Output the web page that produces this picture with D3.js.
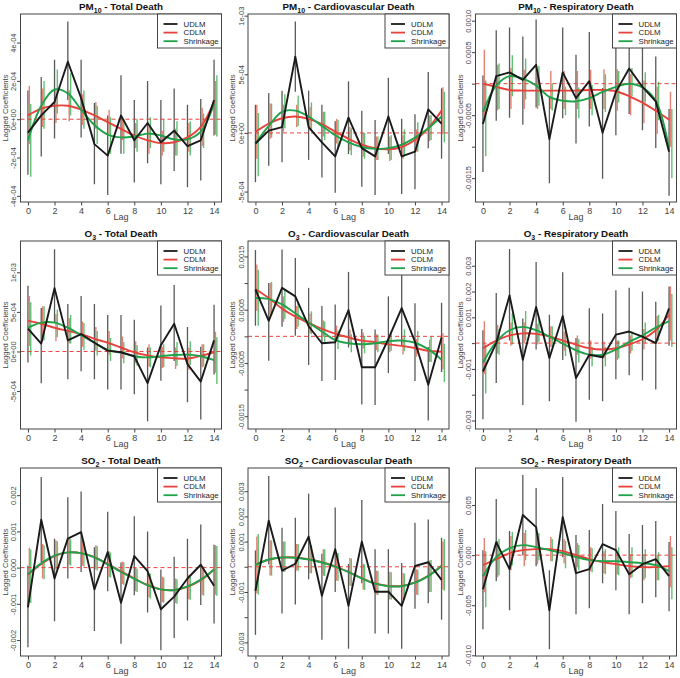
<!DOCTYPE html>
<html><head><meta charset="utf-8">
<script src="https://cdn.jsdelivr.net/npm/d3@7"></script>
<style>body{margin:0;background:#fff}svg text{font-family:"Liberation Sans",Arial,sans-serif}</style>
</head><body><svg id="c" width="680" height="678"></svg>
<script>
const lags = d3.range(0, 15);
const xTicks = [0, 2, 4, 6, 8, 10, 12, 14];
const seriesNames = ["UDLM", "CDLM", "Shrinkage"];
const seriesColors = ["#1a1a1a", "#e8433b", "#1fa24a"];
const barColors = ["#505050", "#de6b5d", "#45b55a"];

// Panel titles: [base, subscript, rest]
const titles = [
  ["PM", "10", "  - Total Death"], ["PM", "10", "  - Cardiovascular Death"], ["PM", "10", "  - Respiratory Death"],
  ["O", "3", " - Total Death"], ["O", "3", " - Cardiovascular Death"], ["O", "3", " - Respiratory Death"],
  ["SO", "2", " - Total Death"], ["SO", "2", " - Cardiovascular Death"], ["SO", "2", " - Respiratory Death"]
];

// ---- PM10 Total (values x1e-4)
const pm10Total_domain = [-4.32, 5.49];
const pm10Total_ticks = [-4, -2, 0, 2, 4];
const pm10Total_labels = ["-4e-04", "-2e-04", "0e+00", "2e-04", "4e-04"];
const pm10Total_udlm = [-0.7, 0.2, 0.9, 3.0, 1.1, -1.3, -1.9, 0.2, -1.1, -0.2, -1.2, -0.6, -1.4, -1.1, 1.0];
const pm10Total_udlmLo = [-2.9, -1.95, -1.0, 1.0, -0.95, -3.4, -3.95, -1.8, -3.3, -2.3, -3.4, -2.7, -3.55, -3.2, -0.85];
const pm10Total_udlmHi = [1.5, 2.2, 3.1, 5.1, 3.1, 0.85, 0.2, 2.3, 1.0, 2.0, 1.0, 1.6, 0.75, 1.05, 3.1];
const pm10Total_cdlm = [0.2, 0.55, 0.7, 0.7, 0.5, 0.2, -0.15, -0.5, -0.85, -1.1, -1.25, -1.2, -0.95, -0.4, 0.9];
const pm10Total_cdlmLo = [-1.3, -0.4, -0.2, -0.1, -0.3, -0.5, -0.8, -1.1, -1.5, -1.8, -1.9, -1.9, -1.7, -1.4, -0.8];
const pm10Total_cdlmHi = [1.75, 1.6, 1.6, 1.5, 1.3, 0.9, 0.5, 0.1, -0.2, -0.4, -0.6, -0.5, -0.2, 0.6, 2.0];
const pm10Total_shr = [-1.1, 0.7, 1.55, 1.35, 0.5, -0.3, -0.8, -0.95, -0.9, -0.75, -0.85, -1.05, -1.05, -0.65, 0.8];
const pm10Total_shrLo = [-3.0, -0.5, 0.3, 0.2, -0.5, -1.3, -1.8, -1.8, -1.7, -1.5, -1.7, -1.9, -1.9, -1.5, -0.9];
const pm10Total_shrHi = [0.8, 2.0, 2.6, 2.4, 1.5, 0.7, 0.1, 0.0, 0.0, 0.1, 0.0, -0.1, -0.1, 0.3, 2.3];

// ---- PM10 Cardiovascular (x1e-4)
const pm10Cardio_domain = [-5.89, 10.14];
const pm10Cardio_ticks = [-5, 0, 5, 10];
const pm10Cardio_labels = ["-5e-04", "0e+00", "5e-04", "1e-03"];
const pm10Cardio_udlm = [-0.9, 0.2, 0.5, 6.5, 0.5, -0.8, -2.0, 1.3, -1.3, -2.0, 1.4, -2.0, -1.6, 2.0, 0.8];
const pm10Cardio_udlmLo = [-4.2, -2.8, -2.5, 3.5, -2.3, -3.8, -5.1, -1.8, -4.6, -5.3, -1.8, -5.2, -4.8, -1.3, -2.2];
const pm10Cardio_udlmHi = [2.4, 3.4, 3.6, 9.5, 3.6, 2.4, 1.0, 4.4, 1.9, 1.1, 4.7, 1.2, 1.6, 5.2, 3.8];
const pm10Cardio_cdlm = [0.1, 0.8, 1.25, 1.4, 1.2, 0.75, 0.1, -0.5, -1.0, -1.3, -1.4, -1.2, -0.6, 0.4, 1.9];
const pm10Cardio_cdlmLo = [-2.2, -0.5, 0.1, 0.5, 0.2, -0.3, -0.9, -1.5, -2.0, -2.3, -2.4, -2.2, -1.6, -0.7, -0.1];
const pm10Cardio_cdlmHi = [2.4, 2.5, 2.4, 2.4, 2.2, 1.8, 1.2, 0.5, 0.0, -0.3, -0.3, -0.2, 0.3, 1.5, 3.9];
const pm10Cardio_shr = [-0.9, 0.6, 1.8, 1.9, 1.4, 0.6, -0.2, -0.8, -1.2, -1.35, -1.3, -1.0, -0.4, 0.4, 1.4];
const pm10Cardio_shrLo = [-3.7, -0.4, 0.4, 0.6, 0.2, -0.6, -1.4, -1.9, -2.2, -2.3, -2.3, -2.0, -1.6, -0.6, -0.8];
const pm10Cardio_shrHi = [1.7, 2.5, 3.3, 3.2, 2.6, 1.8, 1.1, 0.4, 0.0, -0.3, -0.2, 0.3, 0.9, 1.5, 3.5];

// ---- PM10 Respiratory (x1e-4)
const pm10Resp_domain = [-18.78, 11.06];
const pm10Resp_ticks = [-15, -10, -5, 0, 5, 10];
const pm10Resp_labels = ["-0.0015", "", "-0.0005", "", "0.0005", "0.0010"];
const pm10Resp_udlm = [-6.4, 1.2, 1.8, 0.6, 3.0, -8.8, 1.8, -2.3, 0.4, -7.8, -1.3, 2.4, -0.5, -2.8, -10.8];
const pm10Resp_udlmLo = [-14.0, -5.9, -5.4, -6.5, -3.8, -15.8, -5.5, -9.5, -6.8, -15.1, -8.2, -4.8, -7.4, -10.2, -17.8];
const pm10Resp_udlmHi = [1.3, 8.5, 8.9, 7.5, 10.2, -2.0, 8.9, 4.6, 8.2, -0.7, 6.2, 9.5, 6.7, 4.3, -4.0];
const pm10Resp_cdlm = [0.0, -0.5, -1.0, -1.1, -1.1, -1.1, -1.1, -1.1, -1.0, -1.0, -1.2, -2.0, -3.0, -4.3, -5.7];
const pm10Resp_cdlmLo = [-5.5, -4.2, -4.0, -4.0, -4.0, -4.0, -4.0, -4.0, -4.0, -4.0, -4.3, -5.0, -6.3, -8.0, -10.0];
const pm10Resp_cdlmHi = [5.4, 3.0, 2.5, 2.2, 2.0, 2.0, 2.0, 2.0, 2.2, 2.3, 2.3, 1.5, 0.5, -0.5, -1.3];
const pm10Resp_shr = [-4.5, -0.3, 1.2, 0.8, -0.3, -2.1, -2.7, -2.8, -2.3, -1.3, -0.5, 0.0, -0.6, -2.7, -10.3];
const pm10Resp_shrLo = [-11.5, -4.0, -2.0, -2.5, -3.5, -4.3, -5.0, -5.5, -5.0, -4.5, -3.0, -2.0, -3.0, -5.8, -15.0];
const pm10Resp_shrHi = [0.5, 3.2, 4.5, 4.0, 2.8, 0.0, -0.5, -0.6, -0.2, 1.5, 2.0, 2.5, 1.8, 0.3, -4.0];

// ---- O3 Total (x1e-4)
const o3Total_domain = [-9.79, 13.95];
const o3Total_ticks = [-5, 0, 5, 10];
const o3Total_labels = ["-5e-04", "0e+00", "5e-04", "1e-03"];
const o3Total_udlm = [2.9, 1.0, 8.0, 1.4, 2.2, 1.1, 0.1, -0.1, -0.6, -4.0, 0.8, 3.5, -1.6, -3.8, 1.4];
const o3Total_udlmLo = [-1.4, -4.0, 3.7, -3.5, -2.5, -3.5, -4.8, -4.8, -5.4, -8.8, -3.7, -1.2, -6.4, -8.6, -2.9];
const o3Total_udlmHi = [8.3, 5.5, 12.9, 6.0, 7.0, 6.0, 4.6, 4.6, 4.0, 0.5, 5.8, 8.4, 3.1, 0.6, 5.9];
const o3Total_cdlm = [3.9, 3.5, 3.0, 2.6, 2.2, 1.6, 1.1, 0.5, -0.1, -0.5, -0.75, -0.85, -0.9, -0.55, -0.1];
const o3Total_cdlmLo = [0.7, 1.3, 1.3, 1.0, 0.6, 0.1, -0.4, -0.9, -1.5, -1.9, -2.1, -2.2, -2.3, -2.0, -2.7];
const o3Total_cdlmHi = [7.0, 5.7, 4.7, 4.2, 3.8, 3.1, 2.6, 1.9, 1.3, 0.9, 0.6, 0.5, 0.5, 0.9, 2.5];
const o3Total_shr = [3.0, 3.65, 3.65, 3.0, 2.05, 1.1, 0.2, -0.15, -0.6, -0.75, -0.6, -0.45, -0.4, -0.6, -1.1];
const o3Total_shrLo = [-0.5, 1.4, 1.8, 1.0, 0.2, -0.5, -1.2, -1.5, -1.8, -2.0, -2.0, -1.8, -1.7, -1.9, -4.1];
const o3Total_shrHi = [6.2, 5.7, 5.3, 4.6, 3.6, 2.6, 1.7, 1.2, 0.8, 0.5, 0.9, 1.2, 1.3, 0.9, 1.8];

// ---- O3 Cardiovascular (x1e-4)
const o3Cardio_domain = [-17.4, 17.9];
const o3Cardio_ticks = [-15, -10, -5, 0, 5, 10, 15];
const o3Cardio_labels = ["-0.0015", "", "-0.0005", "", "0.0005", "", "0.0015"];
const o3Cardio_udlm = [8.8, 2.9, 9.1, 7.5, 1.9, -1.3, -1.1, 4.9, -5.8, -5.8, -0.5, 5.3, -1.0, -9.1, -0.2];
const o3Cardio_udlmLo = [2.0, -4.6, 1.8, 0.1, -5.4, -8.4, -8.2, -2.1, -12.8, -12.9, -6.9, -1.7, -8.4, -15.8, -6.7];
const o3Cardio_udlmHi = [16.2, 10.0, 16.3, 14.7, 9.1, 5.7, 6.0, 12.1, 1.4, 1.3, 7.5, 12.0, 6.2, -2.0, 6.3];
const o3Cardio_cdlm = [8.9, 7.2, 5.2, 3.7, 2.5, 1.4, 0.5, -0.2, -0.8, -1.1, -1.5, -1.8, -2.2, -2.7, -2.9];
const o3Cardio_cdlmLo = [4.8, 4.0, 2.7, 1.4, 0.6, -0.1, -0.9, -1.6, -2.3, -2.6, -3.0, -3.4, -3.8, -4.8, -6.2];
const o3Cardio_cdlmHi = [13.5, 10.0, 7.5, 5.7, 4.3, 3.0, 2.0, 1.3, 0.7, 0.4, 0.0, -0.3, -0.5, -0.6, 0.6];
const o3Cardio_shr = [7.2, 7.0, 6.0, 4.3, 2.6, 0.9, -0.7, -1.3, -1.5, -1.3, -0.9, -0.8, -1.2, -2.4, -4.4];
const o3Cardio_shrLo = [2.0, 4.0, 3.2, 1.8, 0.4, -1.0, -2.4, -3.0, -3.2, -3.0, -2.7, -2.8, -3.3, -4.8, -8.6];
const o3Cardio_shrHi = [12.5, 10.2, 8.8, 6.5, 4.7, 2.8, 1.1, 0.4, 0.1, 0.3, 0.9, 1.3, 1.0, 0.0, -1.4];

// ---- O3 Respiratory (x1e-4)
const o3Resp_domain = [-33.3, 39.6];
const o3Resp_ticks = [-30, -20, -10, 0, 10, 20, 30];
const o3Resp_labels = ["-0.003", "", "-0.001", "", "0.001", "0.002", "0.003"];
const o3Resp_udlm = [-11.0, 0.0, 18.5, -6.5, 14.0, -5.8, 10.5, -13.5, -4.5, -5.5, 3.3, 4.5, 2.5, 0.0, 13.5];
const o3Resp_udlmLo = [-29.5, -15.5, 1.0, -24.0, -2.5, -22.5, -6.5, -30.5, -22.0, -22.5, -14.0, -12.5, -14.5, -18.0, -1.0];
const o3Resp_udlmHi = [5.0, 19.4, 36.5, 9.5, 31.5, 11.0, 27.5, 2.0, 13.5, 11.5, 20.5, 21.5, 20.0, 16.0, 22.0];
const o3Resp_cdlm = [-2.0, 1.0, 3.0, 3.8, 3.6, 2.6, 1.0, -0.6, -2.0, -2.5, -2.0, -0.5, 1.5, 5.0, 11.0];
const o3Resp_cdlmLo = [-12.0, -4.0, -1.0, 0.0, -0.5, -1.5, -3.0, -4.5, -6.0, -6.0, -6.5, -4.0, -2.5, 0.5, 1.0];
const o3Resp_cdlmHi = [8.5, 7.0, 8.0, 8.0, 7.5, 6.5, 4.5, 3.0, 1.0, 0.5, 1.0, 3.0, 5.5, 10.5, 22.0];
const o3Resp_shr = [-7.5, 0.5, 5.0, 6.3, 5.0, 2.5, -0.2, -2.8, -4.5, -4.5, -2.5, 0.5, 3.0, 6.0, 8.5];
const o3Resp_shrLo = [-19.5, -4.5, -0.5, 1.0, 0.5, -1.5, -5.0, -7.5, -9.0, -9.0, -6.0, -3.0, 0.0, 1.0, -1.5];
const o3Resp_shrHi = [-0.5, 5.5, 11.5, 12.5, 9.5, 6.5, 4.0, 1.5, -1.5, -1.5, 1.0, 4.5, 8.0, 11.0, 19.0];

// ---- SO2 Total (x1e-4)
const so2Total_domain = [-24.4, 27.5];
const so2Total_ticks = [-20, -10, 0, 10, 20];
const so2Total_labels = ["-0.002", "-0.001", "0.000", "0.001", "0.002"];
const so2Total_udlm = [-11.0, 13.2, -3.0, 8.0, 9.8, -6.0, 4.3, -9.7, 3.2, -1.0, -11.5, -8.0, -3.0, 0.8, -5.0];
const so2Total_udlmLo = [-22.0, 1.5, -14.8, -3.0, -1.2, -17.5, -6.5, -21.0, -7.6, -12.4, -22.8, -19.4, -14.6, -10.3, -15.4];
const so2Total_udlmHi = [0.5, 25.0, 8.0, 19.4, 21.0, 5.6, 15.4, 1.4, 14.2, 10.0, -0.5, 3.0, 8.0, 11.9, 6.3];
const so2Total_cdlm = [-2.0, 1.0, 3.2, 4.2, 4.0, 2.9, 1.0, -1.0, -3.0, -4.8, -6.0, -6.2, -5.3, -3.5, -0.5];
const so2Total_cdlmLo = [-9.5, -3.0, -0.5, 0.8, 0.5, -0.5, -2.5, -4.5, -6.5, -8.2, -9.5, -9.8, -8.7, -7.5, -7.5];
const so2Total_cdlmHi = [5.5, 6.5, 7.5, 8.0, 7.5, 6.2, 4.5, 1.7, -0.1, -1.5, -2.5, -3.0, -2.0, 0.5, 6.2];
const so2Total_shr = [-1.8, 1.2, 3.3, 4.2, 4.0, 2.8, 0.9, -1.2, -3.1, -4.9, -6.0, -6.2, -5.2, -3.3, -0.5];
const so2Total_shrLo = [-9.8, -3.2, -0.6, 0.6, 0.3, -0.8, -2.7, -4.8, -6.7, -8.5, -9.7, -10.0, -8.9, -7.8, -7.8];
const so2Total_shrHi = [5.0, 6.2, 7.3, 7.8, 7.3, 6.0, 4.2, 1.5, -0.3, -1.6, -2.7, -3.2, -2.2, 0.3, 6.0];

// ---- SO2 Cardiovascular (x1e-4)
const so2Cardio_domain = [-35.4, 39.2];
const so2Cardio_ticks = [-30, -20, -10, 0, 10, 20, 30];
const so2Cardio_labels = ["-0.003", "", "-0.001", "", "0.001", "0.002", "0.003"];
const so2Cardio_udlm = [-9.5, 18.3, -1.5, 1.2, 12.0, -11.5, 7.0, -15.5, 10.0, -9.9, -9.9, -15.5, 0.3, 1.8, -5.2];
const so2Cardio_udlmLo = [-27.0, 1.0, -18.5, -15.0, -5.0, -29.0, -10.0, -32.5, -6.5, -26.5, -26.5, -32.5, -16.7, -14.5, -21.0];
const so2Cardio_udlmHi = [6.5, 36.0, 15.5, 19.5, 29.0, 5.2, 23.5, 1.1, 26.5, 7.0, 7.0, 1.5, 17.5, 18.8, 11.5];
const so2Cardio_cdlm = [0.8, 2.8, 3.7, 3.7, 3.0, 1.8, 0.2, -2.0, -4.5, -6.6, -7.6, -7.6, -6.2, -3.6, 0.4];
const so2Cardio_cdlmLo = [-10.5, -3.5, -2.0, -1.5, -2.5, -3.5, -5.5, -7.5, -9.0, -11.0, -13.0, -13.0, -11.0, -10.0, -9.0];
const so2Cardio_cdlmHi = [12.0, 10.5, 10.0, 9.0, 8.5, 7.0, 5.5, 3.5, 1.2, -1.5, -2.0, -2.5, -1.0, 2.5, 10.0];
const so2Cardio_shr = [0.8, 2.9, 3.7, 3.6, 2.9, 1.7, 0.1, -2.1, -4.6, -6.7, -7.7, -7.7, -6.3, -3.7, 0.3];
const so2Cardio_shrLo = [-11.0, -3.5, -2.0, -1.6, -2.6, -3.7, -5.6, -7.6, -9.2, -11.2, -13.0, -13.0, -11.2, -10.0, -9.5];
const so2Cardio_shrHi = [13.0, 10.5, 10.0, 9.0, 8.5, 7.0, 5.5, 3.3, 1.0, -1.7, -2.2, -2.7, -1.2, 2.7, 11.0];

// ---- SO2 Respiratory (x1e-3)
const so2Resp_domain = [-10.07, 8.7];
const so2Resp_ticks = [-10, -5, 0, 5];
const so2Resp_labels = ["-0.010", "-0.005", "0.000", "0.005"];
const so2Resp_udlm = [-3.4, 1.3, -1.4, 4.0, 2.8, -5.5, 3.8, -1.8, -1.4, 1.1, 0.5, -1.9, -0.9, -0.4, -2.1];
const so2Resp_udlmLo = [-7.4, -2.6, -5.5, 0.0, -1.1, -9.4, -0.2, -5.9, -5.3, -2.8, -3.5, -5.9, -4.8, -4.2, -5.6];
const so2Resp_udlmHi = [0.5, 5.6, 2.4, 8.0, 6.7, -1.5, 7.8, 2.0, 2.5, 5.1, 4.4, 2.1, 3.0, 3.4, 1.3];
const so2Resp_cdlm = [-1.0, -0.4, 0.2, 0.5, 0.6, 0.6, 0.4, 0.0, -0.4, -0.7, -0.9, -1.1, -1.2, -1.2, -1.1];
const so2Resp_cdlmLo = [-3.7, -2.2, -1.5, -1.1, -0.9, -0.6, -0.8, -1.2, -1.6, -1.8, -1.9, -2.3, -2.5, -2.5, -3.2];
const so2Resp_cdlmHi = [1.7, 1.4, 1.9, 2.2, 2.1, 1.8, 1.6, 1.2, 0.8, 0.4, 0.1, 0.1, 0.1, 0.0, 1.9];
const so2Resp_shr = [-2.1, -0.2, 0.7, 1.0, 0.8, 0.5, 0.2, -0.2, -0.5, -0.6, -0.6, -0.7, -0.8, -1.0, -1.6];
const so2Resp_shrLo = [-5.2, -2.0, -1.0, -0.5, -0.5, -0.6, -1.3, -1.5, -1.7, -1.9, -2.0, -2.2, -2.3, -2.5, -4.4];
const so2Resp_shrHi = [0.4, 1.6, 2.3, 2.5, 2.2, 1.6, 1.4, 1.0, 0.7, 0.6, 0.8, 0.8, 0.6, 0.3, 0.8];

// Assemble panel table from the arrays above
const panels = [
  [pm10Total_domain, pm10Total_ticks, pm10Total_labels, [pm10Total_udlm, pm10Total_udlmLo, pm10Total_udlmHi], [pm10Total_cdlm, pm10Total_cdlmLo, pm10Total_cdlmHi], [pm10Total_shr, pm10Total_shrLo, pm10Total_shrHi]],
  [pm10Cardio_domain, pm10Cardio_ticks, pm10Cardio_labels, [pm10Cardio_udlm, pm10Cardio_udlmLo, pm10Cardio_udlmHi], [pm10Cardio_cdlm, pm10Cardio_cdlmLo, pm10Cardio_cdlmHi], [pm10Cardio_shr, pm10Cardio_shrLo, pm10Cardio_shrHi]],
  [pm10Resp_domain, pm10Resp_ticks, pm10Resp_labels, [pm10Resp_udlm, pm10Resp_udlmLo, pm10Resp_udlmHi], [pm10Resp_cdlm, pm10Resp_cdlmLo, pm10Resp_cdlmHi], [pm10Resp_shr, pm10Resp_shrLo, pm10Resp_shrHi]],
  [o3Total_domain, o3Total_ticks, o3Total_labels, [o3Total_udlm, o3Total_udlmLo, o3Total_udlmHi], [o3Total_cdlm, o3Total_cdlmLo, o3Total_cdlmHi], [o3Total_shr, o3Total_shrLo, o3Total_shrHi]],
  [o3Cardio_domain, o3Cardio_ticks, o3Cardio_labels, [o3Cardio_udlm, o3Cardio_udlmLo, o3Cardio_udlmHi], [o3Cardio_cdlm, o3Cardio_cdlmLo, o3Cardio_cdlmHi], [o3Cardio_shr, o3Cardio_shrLo, o3Cardio_shrHi]],
  [o3Resp_domain, o3Resp_ticks, o3Resp_labels, [o3Resp_udlm, o3Resp_udlmLo, o3Resp_udlmHi], [o3Resp_cdlm, o3Resp_cdlmLo, o3Resp_cdlmHi], [o3Resp_shr, o3Resp_shrLo, o3Resp_shrHi]],
  [so2Total_domain, so2Total_ticks, so2Total_labels, [so2Total_udlm, so2Total_udlmLo, so2Total_udlmHi], [so2Total_cdlm, so2Total_cdlmLo, so2Total_cdlmHi], [so2Total_shr, so2Total_shrLo, so2Total_shrHi]],
  [so2Cardio_domain, so2Cardio_ticks, so2Cardio_labels, [so2Cardio_udlm, so2Cardio_udlmLo, so2Cardio_udlmHi], [so2Cardio_cdlm, so2Cardio_cdlmLo, so2Cardio_cdlmHi], [so2Cardio_shr, so2Cardio_shrLo, so2Cardio_shrHi]],
  [so2Resp_domain, so2Resp_ticks, so2Resp_labels, [so2Resp_udlm, so2Resp_udlmLo, so2Resp_udlmHi], [so2Resp_cdlm, so2Resp_cdlmLo, so2Resp_cdlmHi], [so2Resp_shr, so2Resp_shrLo, so2Resp_shrHi]]
];

const svg = d3.select("#c");
const colX = [0, 227.5, 455], rowY = [0, 227, 454];
const B = {l: 20.5, t: 14, w: 201, h: 188};
const barOffset = [0, 1.4, 2.8];

panels.forEach((p, i) => {
  const [domain, ticks, labels, ud, cd, sh] = p;
  const series = [ud, cd, sh];
  const g = svg.append("g").attr("transform", `translate(${colX[i % 3]},${rowY[Math.floor(i / 3)]})`);
  const x = d3.scaleLinear().domain([-0.56, 14.56]).range([B.l, B.l + B.w]);
  const y = d3.scaleLinear().domain(domain).range([B.t + B.h, B.t]);

  const clipId = "clip" + i;
  g.append("clipPath").attr("id", clipId).append("rect")
    .attr("x", B.l).attr("y", B.t).attr("width", B.w).attr("height", B.h);
  const plot = g.append("g").attr("clip-path", `url(#${clipId})`);

  // error bars
  series.forEach((s, k) => {
    plot.append("g").selectAll("line").data(lags).join("line")
      .attr("x1", d => x(d) + barOffset[k]).attr("x2", d => x(d) + barOffset[k])
      .attr("y1", d => y(s[1][d])).attr("y2", d => y(s[2][d]))
      .attr("stroke", barColors[k]).attr("stroke-width", k === 0 ? 1.3 : 1.4)
      .attr("stroke-opacity", k === 0 ? 0.95 : 0.85);
  });

  // zero reference
  plot.append("line").attr("x1", B.l).attr("x2", B.l + B.w)
    .attr("y1", y(0)).attr("y2", y(0))
    .attr("stroke", "#e8433b").attr("stroke-width", 1).attr("stroke-dasharray", "4,3");

  // estimate lines: CDLM, Shrinkage (smooth), then UDLM on top
  [1, 2, 0].forEach(k => {
    const line = d3.line().x(d => x(d)).y(d => y(series[k][0][d]))
      .curve(k === 0 ? d3.curveLinear : d3.curveCatmullRom.alpha(0.5));
    plot.append("path").datum(lags).attr("d", line)
      .attr("fill", "none").attr("stroke", seriesColors[k]).attr("stroke-width", 1.9)
      .attr("stroke-linejoin", "round");
  });

  // axes
  const xa = g.append("g").attr("transform", `translate(0,${B.t + B.h})`)
    .call(d3.axisBottom(x).tickValues(xTicks).tickSize(3.5).tickPadding(2));
  xa.select(".domain").remove();
  xa.selectAll("line").attr("stroke", "#444");
  xa.selectAll("text").attr("font-size", 9).attr("fill", "#444");

  const ya = g.append("g").attr("transform", `translate(${B.l},0)`)
    .call(d3.axisLeft(y).tickValues(ticks).tickSize(3.5).tickFormat((d, j) => labels[j]));
  ya.select(".domain").remove();
  ya.selectAll("line").attr("stroke", "#444");
  ya.selectAll("text").attr("x", 0).attr("dy", 0)
    .attr("transform", "translate(-4.5,0) rotate(-90)")
    .attr("text-anchor", "middle").attr("font-size", 7.5).attr("fill", "#444");

  // frame
  g.append("rect").attr("x", B.l).attr("y", B.t).attr("width", B.w).attr("height", B.h)
    .attr("fill", "none").attr("stroke", "#444").attr("stroke-width", 1);

  // axis titles
  g.append("text").attr("x", B.l + B.w / 2).attr("y", 220).attr("text-anchor", "middle")
    .attr("font-size", 9).attr("fill", "#444").text("Lag");
  g.append("text").attr("transform", `translate(7.5,${B.t + B.h / 2}) rotate(-90)`)
    .attr("text-anchor", "middle").attr("font-size", 7.6).attr("fill", "#444").text("Lagged Coefficients");

  // title
  const t = g.append("text").attr("x", B.l + B.w / 2).attr("y", 10).attr("text-anchor", "middle")
    .attr("font-size", 9.8).attr("font-weight", "bold").attr("fill", "#111");
  t.append("tspan").text(titles[i][0]);
  t.append("tspan").attr("font-size", 7).attr("dy", 2.5).text(titles[i][1]);
  t.append("tspan").attr("dy", -2.5).text(titles[i][2]);

  // legend
  const lg = g.append("g").attr("transform", `translate(${B.l + B.w - 64},${B.t})`);
  lg.append("rect").attr("width", 64).attr("height", 34).attr("fill", "#ffffff")
    .attr("stroke", "#444").attr("stroke-width", 1);
  seriesNames.forEach((nm, k) => {
    const yy = 10 + k * 8.6;
    lg.append("line").attr("x1", 6).attr("x2", 20).attr("y1", yy).attr("y2", yy)
      .attr("stroke", seriesColors[k]).attr("stroke-width", 1.8);
    lg.append("text").attr("x", 26).attr("y", yy + 2.8).attr("font-size", 7.8)
      .attr("fill", "#222222").text(nm);
  });
});
</script>
</body></html>
